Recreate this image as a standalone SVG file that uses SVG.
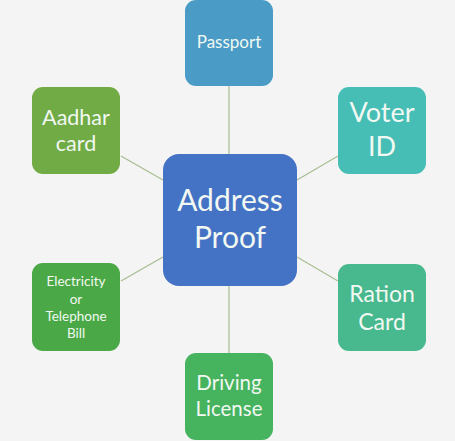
<svg xmlns="http://www.w3.org/2000/svg" width="455" height="441" viewBox="0 0 455 441">
<style>
.bg{fill:#f4f4f4}
.box{stroke:none}
.t{font-family:Lato,"Open Sans","Liberation Sans",sans-serif;fill:#f2f8f2;text-anchor:middle}
.ln{stroke:#a8bd90;stroke-width:1.2;fill:none}
</style>
<rect class="bg" width="455" height="441"/>
<g id="connectors">
<line class="ln" x1="229" y1="86" x2="229" y2="154"/>
<line class="ln" x1="229" y1="286" x2="229" y2="353"/>
<line class="ln" x1="121" y1="156" x2="163" y2="180"/>
<line class="ln" x1="297" y1="180" x2="338" y2="156"/>
<line class="ln" x1="297" y1="257" x2="338" y2="281"/>
<line class="ln" x1="121" y1="281" x2="163" y2="257"/>
</g>
<g id="address-proof">
<rect class="box" x="163" y="154" width="134" height="132" rx="16" fill="#4472c4"/>
<text class="t" x="230" y="211" font-size="30">Address</text>
<text class="t" x="230" y="248" font-size="30">Proof</text>
</g>
<g id="passport">
<rect class="box" x="185" y="0" width="88" height="86" rx="11" fill="#4a9cc6"/>
<text class="t" x="229" y="48" font-size="17">Passport</text>
</g>
<g id="voter-id">
<rect class="box" x="338" y="87" width="88" height="87" rx="11" fill="#46bdb5"/>
<text class="t" x="382" y="122" font-size="27">Voter</text>
<text class="t" x="382" y="156" font-size="27">ID</text>
</g>
<g id="ration-card">
<rect class="box" x="338" y="264" width="88" height="87" rx="11" fill="#48b88e"/>
<text class="t" x="382" y="302" font-size="23">Ration</text>
<text class="t" x="382" y="330" font-size="23">Card</text>
</g>
<g id="driving-license">
<rect class="box" x="185" y="353" width="88" height="87" rx="11" fill="#46b35f"/>
<text class="t" x="229" y="390" font-size="20.5">Driving</text>
<text class="t" x="229" y="416" font-size="20.5">License</text>
</g>
<g id="electricity-bill">
<rect class="box" x="32" y="263" width="88" height="88" rx="11" fill="#4aa946"/>
<text class="t" x="76" y="286" font-size="13.5">Electricity</text>
<text class="t" x="76" y="304" font-size="13.5">or</text>
<text class="t" x="76" y="321" font-size="13.5">Telephone</text>
<text class="t" x="76" y="338" font-size="13.5">Bill</text>
</g>
<g id="aadhar-card">
<rect class="box" x="32" y="87" width="88" height="87" rx="11" fill="#70ab45"/>
<text class="t" x="76" y="125" font-size="21.5">Aadhar</text>
<text class="t" x="76" y="151" font-size="21.5">card</text>
</g>
</svg>
